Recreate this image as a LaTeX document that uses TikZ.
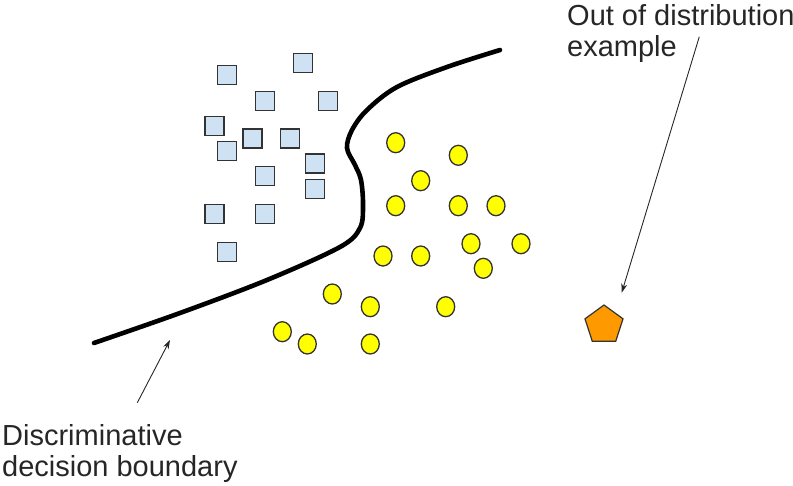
\documentclass[tikz,border=0pt]{standalone}
\usepackage{fontspec}
\setmainfont{Liberation Sans}
\usepackage{xcolor}
\usetikzlibrary{arrows.meta,shapes.geometric}

\definecolor{sqblue}{HTML}{CFE2F3}
\definecolor{edgegray}{HTML}{333333}
\definecolor{ptyellow}{HTML}{FFFF00}
\definecolor{oodorange}{HTML}{FF9900}

\begin{document}
\begin{tikzpicture}[x=1pt,y=-1pt,
  sq/.style={draw=edgegray,fill=sqblue,line width=1.4pt,minimum size=19pt,inner sep=0pt},
  dot/.style={ellipse,draw=edgegray,fill=ptyellow,line width=1.3pt,minimum width=18pt,minimum height=20pt,inner sep=0pt},
  ood/.style={regular polygon,regular polygon sides=5,draw=edgegray,fill=oodorange,line width=1.2pt,minimum size=40pt,inner sep=0pt},
  label/.style={anchor=base west,inner sep=0pt,align=left,font=\fontsize{29}{31}\selectfont,text=black!85},
  pointer/.style={line width=0.9pt,black!85,-{Stealth[length=9pt,width=6pt]}}]
  \useasboundingbox (0,0) rectangle (793,485);

  % squares
  \foreach \x/\y [count=\i] in {226.7/75, 302.7/62.7, 265/100.7, 327.7/100.7,
      214.3/125.7, 252.3/138.3, 290/138.3, 226.7/151, 315/163.3, 265/176,
      315/189, 214.3/214, 265/214, 226.7/252}
    \node[sq] (s\i) at (\x,\y) {};

  % circles
  \foreach \x/\y [count=\i] in {395.7/142.7, 458.3/155.3, 420.7/180.7, 395.7/205.7,
      458.3/205.7, 496/205.7, 471/243.7, 521/243.7, 383/256, 420.7/256,
      483.3/268.3, 332.3/294, 370.3/306.7, 445.7/306.7, 282.3/331.7,
      307.3/344, 370.3/344}
    \node[dot] (c\i) at (\x,\y) {};

  % decision boundary
  \draw[line width=4.6pt,line cap=round] plot[smooth,tension=0.55] coordinates {
    (94,343) (180,313) (267,280) (340,247) (360,228) (363,205) (361,180)
    (355,165) (347,148) (352,130) (367,110) (397,87) (447,67) (500,50)};

  % out of distribution point
  \node[ood] (pent) at (604,325) {};

  % base of a two-line node is the last line
  \node[label] (oodtext) at (567,56) {Out of distribution\\example};
  \node[label] (boundtext) at (2,476) {Discriminative\\decision boundary};

  \coordinate (oodtail) at (699.3,36.7);
  \coordinate (oodhead) at (621.7,292.7);
  \coordinate (bndtail) at (137.3,402.7);
  \coordinate (bndhead) at (170,340);

  \draw[pointer] (oodtail) -- (oodhead);
  \draw[pointer] (bndtail) -- (bndhead);
\end{tikzpicture}
\end{document}
